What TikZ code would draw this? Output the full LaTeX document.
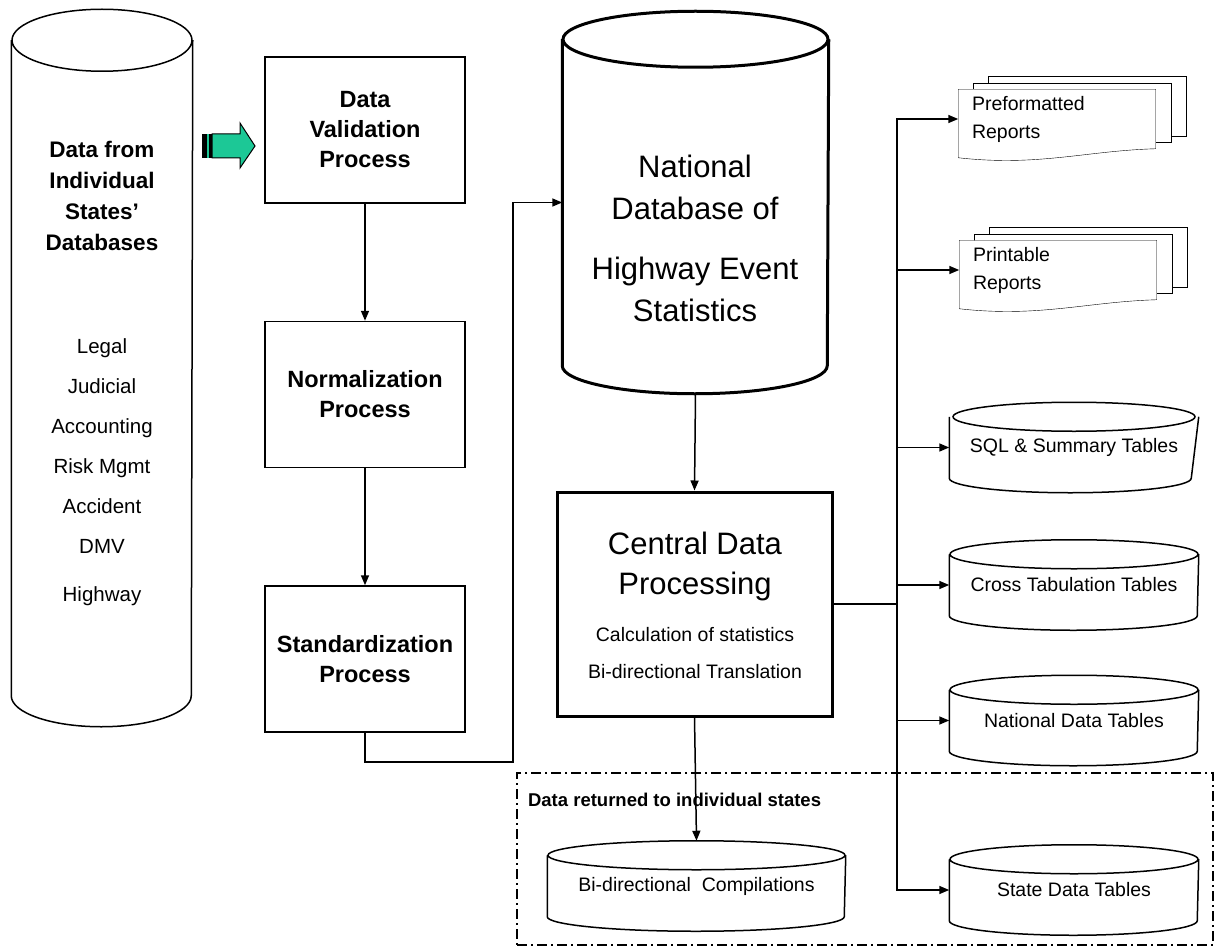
\documentclass[tikz,border=0pt]{standalone}
\usepackage{fontspec}
\setmainfont{Liberation Sans}
\usetikzlibrary{arrows.meta, positioning, backgrounds}
\definecolor{arrowgreen}{RGB}{28,200,150}

\newcommand\pxfont[2]{\fontsize{#1}{#2}\selectfont}
\newcommand\drum[4][]{%
  \draw[#1] (#2.north west) -- (#2.south west)
    arc[start angle=180, end angle=360, x radius=#3, y radius=#4]
    -- (#2.north east) (#2.north) ellipse [x radius=#3, y radius=#4];}
\newcommand\docstack[1]{%
  \foreach \k in {2,1}
    \draw[fill=white] ([shift={(15pt*\k,6.5pt*\k)}]#1.south west) rectangle ([shift={(15pt*\k,6.5pt*\k)}]#1.north east);
  \draw[fill=white] (#1.north west) -- (#1.north east) -- (#1.south east)
    .. controls ([xshift=-70pt,yshift=-2pt]#1.south east) and ([xshift=80pt,yshift=-18pt]#1.south west) .. ([yshift=-9pt]#1.south west) -- cycle;}

\begin{document}
\begin{tikzpicture}[x=1pt, y=-1pt, line width=1.5pt,
      proc/.style={rectangle, draw, minimum width=200pt, minimum height=146pt,
                   font=\pxfont{23.5}{30}\bfseries, align=center},
      tank/.style={rectangle, inner sep=0pt, minimum width=248pt, minimum height=60pt,
                   font=\pxfont{19.5}{23}},
      doc/.style={rectangle, inner xsep=13pt, inner ysep=0pt, text width=170pt,
                  minimum height=58pt, align=left, font=\pxfont{19.5}{28}},
      arr/.style={-{Triangle[length=10pt, width=8pt]}},
      node distance=117pt
    ]
      \useasboundingbox (0,0) rectangle (1215,952);

      \node[rectangle, inner sep=0pt, minimum width=180pt, minimum height=654pt] (src) at (102,368) {};
      \drum{src}{90pt}{31pt}
      \node[align=center, font=\pxfont{22.5}{30.7}\bfseries] (srctitle) at (102,196)
        {Data from\\Individual\\States'\\Databases};
      \node[align=center, font=\pxfont{20.5}{40}] (srclist) at (102,472)
        {Legal\\Judicial\\Accounting\\Risk Mgmt\\Accident\\DMV\\[8pt]Highway};

      \fill (202,134) rectangle (207,158);
      \fill[arrowgreen] (207,134) rectangle (209,158);
      \fill (209,134) rectangle (212,158);
      \draw[line width=1pt, fill=arrowgreen] (212,134) -- (240,134) -- (240,123) -- (255,146)
        -- (240,168) -- (240,158) -- (212,158) -- cycle;

      \node[proc] (valid) at (365,130) {Data\\Validation\\Process};
      \node[proc, below=of valid] (norm) {Normalization\\Process};
      \node[proc, below=of norm] (stdz) {Standardization\\Process};

      \node[rectangle, inner sep=0pt, minimum width=265pt, minimum height=325pt] (natdb) at (695.5,202.5) {};
      \drum[line width=3pt]{natdb}{132.5pt}{28pt}
      \node[align=center, font=\pxfont{31}{42}] (natlbl) at (695,238)
        {National\\Database of\\[18pt]Highway Event\\Statistics};

      \node[rectangle, draw, line width=3pt, minimum width=275pt, minimum height=224pt] (central) at (694.5,604) {};
      \node[align=center, font=\pxfont{31}{40}] (centlbl) at (695,566) {Central Data\\Processing};
      \node[align=center, font=\pxfont{19.5}{37}] (centsub) at (695,653)
        {Calculation of statistics\\Bi-directional Translation};

      \node[doc] (pref) at (1057,119) {Preformatted\\Reports};
      \node[doc] (print) at (1058,270) {Printable\\Reports};
      \begin{scope}[on background layer]
        \docstack{pref}
        \docstack{print}
      \end{scope}

      \node[tank] (sql) at (1074,447.5) {SQL \& Summary Tables};
      \node[tank, below=76pt of sql] (cross) {Cross Tabulation Tables};
      \node[tank, below=74pt of cross] (nattab) {National Data Tables};
      \node[tank, below=108pt of nattab] (state) {State Data Tables};
      \node[tank, minimum width=297pt] (bidir) at (696.5,886) {Bi-directional~ Compilations};
      \drum{sql}{121pt}{14.5pt}
      \drum{cross}{124pt}{14.5pt}
      \drum{nattab}{124pt}{14.5pt}
      \drum{state}{124pt}{14.5pt}
      \drum{bidir}{148.5pt}{14.5pt}

      \node[draw, line width=1.2pt, dash pattern=on 10pt off 4pt on 2pt off 4pt,
            minimum width=696pt, minimum height=172pt] (retbox) at (865,859) {};
      \node[anchor=west, font=\pxfont{18.5}{22}\bfseries] (retlbl) at (524,800)
        {Data returned to individual states};

      \coordinate (bend) at (513,762);
      \coordinate (bus) at (897,604);
      \draw[arr] (valid) -- (norm);
      \draw[arr] (norm) -- (stdz);
      \draw[arr] (stdz.south) |- (bend) |- (natdb.west);
      \draw[arr] ([yshift=-28pt]natdb.south) -- (central.north);
      \draw[arr] (central.south) -- ([yshift=14.5pt]bidir.north);
      \draw (central.east) -- (bus);
      \foreach \t in {pref,print,sql,cross,nattab,state}
        \draw[arr] (bus) |- (\t.west);
    \end{tikzpicture}
\end{document}
